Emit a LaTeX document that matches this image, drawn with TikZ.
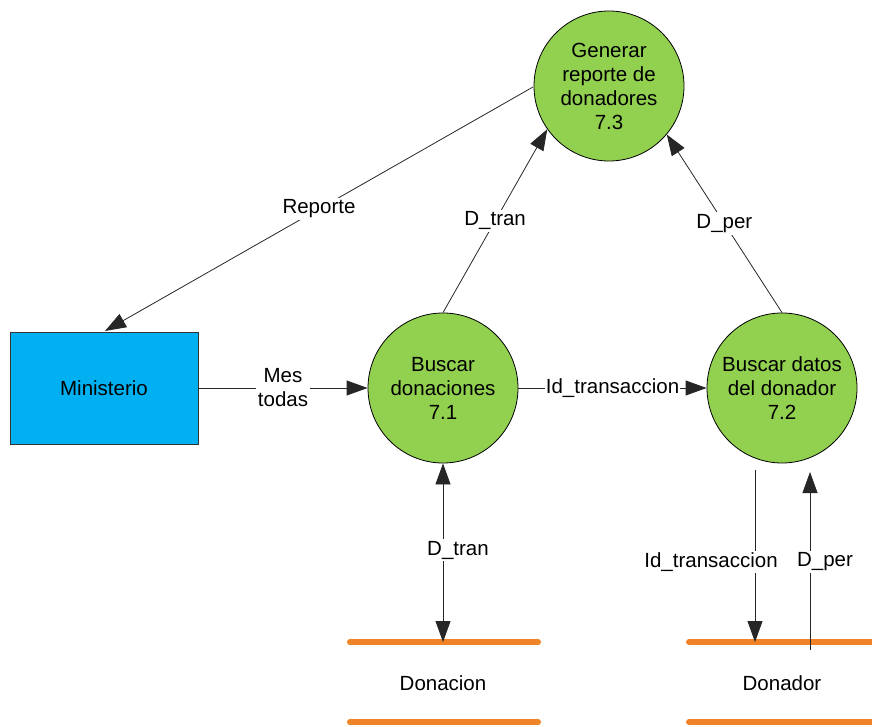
\documentclass[tikz,border=0pt]{standalone}
\usepackage{fontspec}
\setmainfont{Liberation Sans}
\usetikzlibrary{arrows.meta}
\definecolor{procgreen}{HTML}{92D050}
\definecolor{entblue}{HTML}{00B0F0}
\definecolor{storeorange}{HTML}{F08228}
\begin{document}
\begin{tikzpicture}[x=1pt,y=-1pt,
  every node/.style={font=\fontsize{20.5}{24}\selectfont, align=center},
  proc/.style={circle, draw=black, fill=procgreen, minimum size=150pt, inner sep=0pt, line width=0.8pt},
  ent/.style={draw=black!80, fill=entblue, minimum width=188pt, minimum height=112pt, line width=0.8pt},
  flow/.style={draw=black!85, line width=0.8pt, -{Triangle[length=21pt,width=15pt]}},
  bflow/.style={draw=black!85, line width=0.8pt, {Triangle[length=21pt,width=15pt]}-{Triangle[length=21pt,width=15pt]}},
  lbl/.style={fill=white, inner sep=2pt},
  store/.style={draw=storeorange, line width=6pt, line cap=round}]
\useasboundingbox (0,0) rectangle (872,727);
\node[proc] (p73) at (609,86) {Generar\\reporte de\\donadores\\7.3};
\node[proc] (p71) at (443,388) {Buscar\\donaciones\\7.1};
\node[proc] (p72) at (782,388) {Buscar datos\\del donador\\7.2};
\node[ent] (min) at (104,388) {Ministerio};
% data stores
\coordinate (d1a) at (350,642); \coordinate (d1b) at (538,642);
\coordinate (d1c) at (350,722); \coordinate (d1d) at (538,722);
\coordinate (d2a) at (689,642); \coordinate (d2b) at (875,642);
\coordinate (d2c) at (689,722); \coordinate (d2d) at (875,722);
\draw[store] (d1a) -- (d1b); \draw[store] (d1c) -- (d1d);
\draw[store] (d2a) -- (d2b); \draw[store] (d2c) -- (d2d);
\node (sDon) at (443,683) {Donacion};
\node (sDor) at (782,683) {Donador};
% flows
\coordinate (mtop) at (105,331);
\coordinate (r0) at (533,87);
\draw[flow] (r0) -- (mtop) node[lbl, pos=0.5] {Reporte};
\draw[flow] (p71.north) -- (p73.215) node[lbl, pos=0.5] {D\_tran};
\draw[flow] (p72.north) -- (p73.-40) node[lbl, pos=0.5] {D\_per};
\draw[flow] (min.east) -- (p71.west) node[lbl, pos=0.5] {Mes\\todas};
\draw[flow] (p71.east) -- (p72.west) node[lbl, pos=0.5, inner sep=1pt] {Id\_transaccion};
\coordinate (dt) at (443,642);
\draw[bflow] (p71.south) -- (dt);
\node[lbl] (ld) at (458,550) {D\_tran};
\coordinate (i0) at (755,470); \coordinate (i1) at (755,642);
\draw[flow] (i0) -- (i1);
\coordinate (q0) at (810,650); \coordinate (q1) at (810,472);
\draw[flow] (q0) -- (q1);
\node[lbl] (li) at (711,562) {Id\_transaccion};
\node[lbl] (lp) at (825,562) {D\_per};
\end{tikzpicture}
\end{document}
